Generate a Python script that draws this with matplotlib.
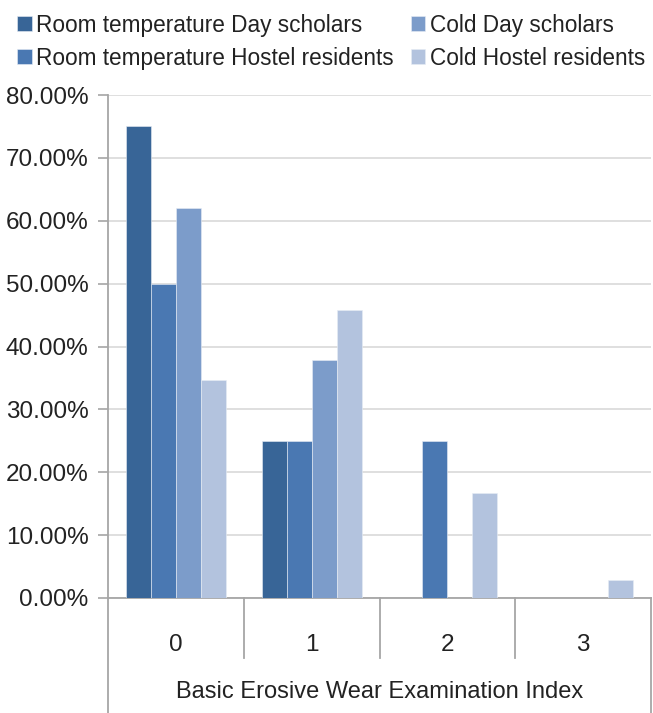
import matplotlib.pyplot as plt
import numpy as np
from matplotlib.ticker import FuncFormatter

plt.rcParams['font.family'] = ['Liberation Sans', 'DejaVu Sans']

# BEWE score categories and share of each group (%)
categories = ['0', '1', '2', '3']
series_names = ['Room temperature Day scholars', 'Room temperature Hostel residents',
                'Cold Day scholars', 'Cold Hostel residents']
rt_day = [75.0, 25.0, 0.0, 0.0]
rt_hostel = [50.0, 25.0, 25.0, 0.0]
cold_day = [62.1, 37.9, 0.0, 0.0]
cold_hostel = [34.6, 45.8, 16.7, 2.8]
colors = ['#386597', '#4a78b2', '#7c9cca', '#b3c3de']

fig = plt.figure(figsize=(6.53, 7.13), dpi=100)
W, H = 653, 713
x0, x1, y0, y1 = 108, 651, 598, 95
ax = fig.add_axes([x0 / W, 1 - y0 / H, (x1 - x0) / W, (y0 - y1) / H])

x = np.arange(len(categories))
bw = 0.184
data = [rt_day, rt_hostel, cold_day, cold_hostel]
for i, (vals, name, c) in enumerate(zip(data, series_names, colors)):
    ax.bar(x + (i - 1.5) * bw, vals, bw, color=c, label=name,
           edgecolor='#e8edf5', linewidth=0.4, zorder=3)

ax.set_xlim(-0.5, 3.5)
ax.set_ylim(0, 80)
ax.set_yticks(np.arange(0, 81, 10))
ax.yaxis.set_major_formatter(FuncFormatter(lambda v, _: f"{v:.2f}%"))
ax.grid(axis='y', color='#dcdcdc', linewidth=1.3, zorder=0)
ax.tick_params(axis='y', length=7, width=1.2, color='#a6a6a6', labelsize=17.5,
               labelcolor='#222222', pad=7)
for s in ['top', 'right']:
    ax.spines[s].set_visible(False)
for s in ['left', 'bottom']:
    ax.spines[s].set_color('#a6a6a6')
    ax.spines[s].set_linewidth(1.3)

# category labels with separators below the axis
ax.set_xticks(x)
ax.set_xticklabels(categories)
ax.tick_params(axis='x', length=0, labelsize=17.5, labelcolor='#222222', pad=26)
line_kw = dict(color='#a6a6a6', linewidth=1.3, clip_on=False, transform=ax.transData)
for xs in [0.5, 1.5, 2.5]:
    ax.plot([xs, xs], [0, -60 / (y0 - y1) * 80], **line_kw)
for xs in [-0.5, 3.5]:
    ax.plot([xs, xs], [0, -(H - y0) / (y0 - y1) * 80], **line_kw)
ax.set_xlabel('Basic Erosive Wear Examination Index', fontsize=17,
              color='#222222', labelpad=18)

fig.legend(loc='upper left', bbox_to_anchor=(0.005, 1.0), ncol=2, frameon=False,
           fontsize=16.3, handlelength=0.65, handleheight=0.65, handletextpad=0.2,
           columnspacing=0.75, labelspacing=0.45, borderaxespad=0.2,
           labelcolor='#222222')

fig.savefig('out.png', dpi=100)
